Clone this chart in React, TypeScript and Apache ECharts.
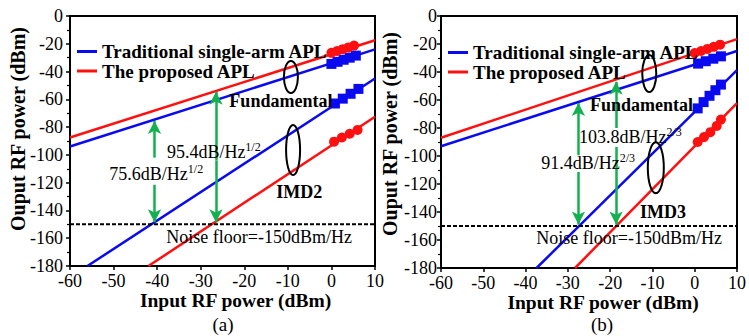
import React, { useEffect, useRef } from "react";
import * as echarts from "echarts";

// ---------- data ----------
const X_MIN = -60, X_MAX = 10, X_INT = 10;
const Y_MIN = -180, Y_MAX = 0, Y_INT = 20;

const NAME_TRAD = "Traditional single-arm APL";
const NAME_PROP = "The proposed APL";

// (a) fundamental & IMD2 (input dBm, output dBm)
const fundTradA = [[-60, -94], [10, -24]];
const fundPropA = [[-60, -87.5], [10, -17.5]];
const imd2TradA = [[-56, -180], [10, -45]];
const imd2PropA = [[-42, -180], [10, -72.5]];
const fundTradMeasA = [[0, -34.5], [1.4, -33], [2.8, -31.5], [4.2, -30], [5.6, -28.5]];
const fundPropMeasA = [[0, -26.5], [1.3, -25.2], [2.6, -23.9], [3.9, -22.6], [5.2, -21.3]];
const imd2TradMeasA = [[0.8, -63], [2.6, -59.5], [4.4, -56], [6.2, -52.5]];
const imd2PropMeasA = [[0.6, -90.5], [2.4, -87.5], [4.2, -84.8], [6.0, -82]];

// (b) fundamental & IMD3
const fundTradB = [[-60, -93], [10, -25]];
const fundPropB = [[-60, -87], [10, -16.5]];
const imd3TradB = [[-37.4, -180], [10, -38.6]];
const imd3PropB = [[-28.3, -180], [10, -62.2]];
const fundTradMeasB = [[0.8, -34], [2.6, -32.3], [4.4, -30.5], [6.2, -28.8]];
const fundPropMeasB = [[0, -26.5], [1.5, -25], [3, -23.5], [4.5, -22], [6, -20.5]];
const imd3TradMeasB = [[0.7, -66], [2.1, -61.5], [3.5, -57], [4.9, -53], [6.2, -49]];
const imd3PropMeasB = [[0.7, -90], [2.2, -86.5], [3.7, -83], [5.2, -78.5], [6.2, -74]];

const NOISE_FLOOR = -150;

// SFDR arrows: [x, topTip, upperSegEnd, lowerSegStart, bottomTip]
const arrowsA = [
  [-40.6, -75.6, -102, -121.5, -148.5],
  [-26.5, -54.5, -104, -104, -148.5],
];
const arrowsB = [
  [-27.5, -62.2, -99.4, -111.4, -149],
  [-18.6, -47, -80, -93.5, -149],
];

// annotation texts
const sfdrLabelsA = [["75.6dB/Hz", "1/2", -40.2, -113.5], ["95.4dB/Hz", "1/2", -27, -98]];
const sfdrLabelsB = [["91.4dB/Hz", "2/3", -25.2, -105], ["103.8dB/Hz", "2/3", -15.2, -86.3]];
const textsA = [["Fundamental", -11.6, -61, true], ["IMD2", -7.4, -126.7, true], ["Noise floor=-150dBm/Hz", -16.6, -159, false]];
const textsB = [["Fundamental", -12.6, -63.7, true], ["IMD3", -7.5, -140.2, true], ["Noise floor=-150dBm/Hz", -15.5, -158.8, false]];
// ellipses [cx, cy] in data units, [rx, ry] in px
const ellipsesA = [[-9.3, -43.9, 7, 16], [-8.8, -96.5, 7, 25]];
const ellipsesB = [[-10.75, -41.1, 7, 18.5], [-9.2, -108.4, 8, 25.5]];

const BLUE = "#0a0af0";
const RED = "#ff1010";
const GREEN = "#13b04f";
const FONT = "Liberation Serif";

export default function App() {
  const ref = useRef<HTMLDivElement>(null);
  useEffect(() => {
    document.body.style.margin = "0";
    const chart = echarts.init(ref.current!, null, { renderer: "svg" });

    const grids = [
      { left: 70, top: 16, width: 305, height: 250 },
      { left: 441, top: 16, width: 305, height: 252 },
    ];

    const xAxis = (gi: number, shift: number, gap: number, margin: number) => ({
      type: "value", gridIndex: gi, min: X_MIN, max: X_MAX, interval: X_INT,
      name: "Input RF power (dBm)", nameLocation: "middle", nameGap: gap, nameMoveOverlap: false,
      nameTextStyle: { fontFamily: FONT, fontSize: 19.5, fontWeight: "bold", color: "#000", lineHeight: 15, padding: [0, 0, 0, shift * 2] },
      axisLine: { show: true, onZero: false, lineStyle: { color: "#000", width: 2 } },
      axisTick: { show: true, inside: false, length: 4, lineStyle: { color: "#000", width: 1.5 } },
      axisLabel: { fontFamily: FONT, fontSize: 18, color: "#000", margin, lineHeight: 14 },
      splitLine: { show: false },
    });
    const yAxis = (gi: number, shift: number, gap: number, margin: number) => ({
      type: "value", gridIndex: gi, min: Y_MIN, max: Y_MAX, interval: Y_INT,
      name: "Ouput RF power (dBm)", nameLocation: "middle", nameGap: gap, nameRotate: 90, nameMoveOverlap: false,
      nameTextStyle: { fontFamily: FONT, fontSize: 20, fontWeight: "bold", color: "#000", padding: [0, 0, 0, shift * 2] },
      axisLine: { show: true, onZero: false, lineStyle: { color: "#000", width: 2 } },
      axisTick: { show: true, inside: false, length: 4, lineStyle: { color: "#000", width: 1.5 } },
      minorTick: { show: true, splitNumber: 2, length: 3, lineStyle: { color: "#000", width: 1.2 } },
      axisLabel: { fontFamily: FONT, fontSize: 18, color: "#000", margin },
      splitLine: { show: false },
    });

    const line = (gi: number, name: string, data: number[][], color: string) => ({
      type: "line", name, xAxisIndex: gi, yAxisIndex: gi, data, symbol: "none",
      lineStyle: { color, width: 2.5 }, itemStyle: { color }, z: 2,
    });
    const scatter = (gi: number, name: string, data: number[][], color: string, symbol: string) => ({
      type: "scatter", name, xAxisIndex: gi, yAxisIndex: gi, data, symbol,
      symbolSize: 10, itemStyle: { color, opacity: 1 }, z: 3,
    });
    const noise = (gi: number, arrows: number[][]) => ({
      type: "line", name: "Noise floor", xAxisIndex: gi, yAxisIndex: gi,
      data: [[X_MIN, NOISE_FLOOR], [X_MAX, NOISE_FLOOR]], symbol: "none",
      lineStyle: { color: "#000", width: 2, type: [4, 2] }, z: 2,
      markLine: {
        silent: true, symbol: ["none", "arrow"], symbolSize: [10, 13], label: { show: false },
        lineStyle: { color: GREEN, width: 2.5, type: "solid" }, z: 4,
        data: arrows.flatMap((a) => [
          [{ coord: [a[0], a[2]] }, { coord: [a[0], a[1]] }],
          [{ coord: [a[0], a[3]] }, { coord: [a[0], a[4]] }],
        ]),
      },
    });

    const legend = (left: number, top: number) => ({
      left, top, orient: "vertical", itemWidth: 20, itemHeight: 3, itemGap: 0.5,
      icon: "rect", selectedMode: false,
      data: [NAME_TRAD, NAME_PROP],
      textStyle: { fontFamily: FONT, fontSize: 19, fontWeight: "bold", color: "#000", lineHeight: 16 },
    });

    const option: any = {
      animation: false,
      backgroundColor: "#fff",
      grid: grids.map((g) => ({ ...g, show: true, borderColor: "#000", borderWidth: 2, backgroundColor: "transparent" })),
      xAxis: [xAxis(0, 13, 26.5, 8), xAxis(1, 14, 27, 7.5)],
      yAxis: [yAxis(0, 12, 42, 7), yAxis(1, 8, 41.5, 4)],
      legend: [legend(72, 37), legend(443, 38)],
      series: [
        line(0, NAME_TRAD, fundTradA, BLUE),
        line(0, NAME_PROP, fundPropA, RED),
        line(0, NAME_TRAD, imd2TradA, BLUE),
        line(0, NAME_PROP, imd2PropA, RED),
        noise(0, arrowsA),
        scatter(0, "Measured fundamental (traditional) a", fundTradMeasA, BLUE, "rect"),
        scatter(0, "Measured fundamental (proposed) a", fundPropMeasA, RED, "circle"),
        scatter(0, "Measured IMD2 (traditional)", imd2TradMeasA, BLUE, "rect"),
        scatter(0, "Measured IMD2 (proposed)", imd2PropMeasA, RED, "circle"),
        line(1, NAME_TRAD, fundTradB, BLUE),
        line(1, NAME_PROP, fundPropB, RED),
        line(1, NAME_TRAD, imd3TradB, BLUE),
        line(1, NAME_PROP, imd3PropB, RED),
        noise(1, arrowsB),
        scatter(1, "Measured fundamental (traditional) b", fundTradMeasB, BLUE, "rect"),
        scatter(1, "Measured fundamental (proposed) b", fundPropMeasB, RED, "circle"),
        scatter(1, "Measured IMD3 (traditional)", imd3TradMeasB, BLUE, "rect"),
        scatter(1, "Measured IMD3 (proposed)", imd3PropMeasB, RED, "circle"),
      ],
    };
    chart.setOption(option);

    const px = (gi: number, x: number, y: number) => chart.convertToPixel({ gridIndex: gi }, [x, y]) as number[];
    const graphics: any[] = [];
    const addPanel = (gi: number, texts: any[], sfdr: any[], ells: number[][]) => {
      texts.forEach(([t, x, y, bold]) => {
        const p = px(gi, x, y);
        graphics.push({
          type: "text", x: p[0], y: p[1], z: 10,
          style: { text: t, fontFamily: FONT, fontSize: 18, fontWeight: bold ? "bold" : "normal", fill: "#000", align: "center", verticalAlign: "middle" },
        });
      });
      sfdr.forEach(([t, sup, x, y]) => {
        const p = px(gi, x, y);
        graphics.push({
          type: "text", x: p[0], y: p[1], z: 10,
          style: {
            text: `{m|${t}}{s|${sup}}`, align: "center", verticalAlign: "middle", fill: "#000",
            rich: {
              m: { fontFamily: FONT, fontSize: 18, fill: "#000", lineHeight: 14 },
              s: { fontFamily: FONT, fontSize: 12, fill: "#000", padding: [0, 0, 10, 0], lineHeight: 9 },
            },
          },
        });
      });
      ells.forEach(([x, y, rx, ry]) => {
        const p = px(gi, x, y);
        graphics.push({
          type: "ellipse", z: 10, shape: { cx: p[0], cy: p[1], rx, ry },
          style: { fill: "none", stroke: "#000", lineWidth: 2 },
        });
      });
    };
    addPanel(0, textsA, sfdrLabelsA, ellipsesA);
    addPanel(1, textsB, sfdrLabelsB, ellipsesB);
    graphics.push({ type: "text", x: 223, y: 324, style: { text: "(a)", fontFamily: FONT, fontSize: 19, fill: "#000", align: "center", verticalAlign: "middle" } });
    graphics.push({ type: "text", x: 602, y: 324, style: { text: "(b)", fontFamily: FONT, fontSize: 19, fill: "#000", align: "center", verticalAlign: "middle" } });
    chart.setOption({ graphic: graphics });

    return () => chart.dispose();
  }, []);
  return <div ref={ref} style={{ width: 749, height: 336 }} />;
}
